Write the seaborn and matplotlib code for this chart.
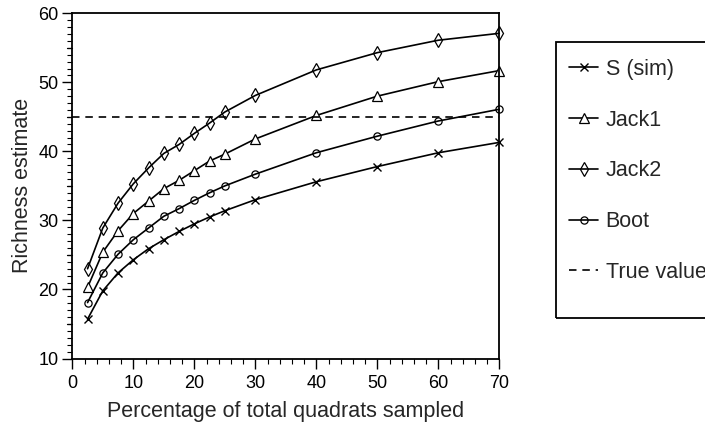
import matplotlib
matplotlib.use("Agg")
import matplotlib.pyplot as plt
from matplotlib.ticker import MultipleLocator
from matplotlib.patches import Rectangle
import seaborn as sns
import pandas as pd

# ---- data ----
pct = [2.5, 5, 7.5, 10, 12.5, 15, 17.5, 20, 22.5, 25, 30, 40, 50, 60, 70]
s_sim = [15.7, 19.8, 22.4, 24.3, 25.9, 27.2, 28.4, 29.5, 30.5, 31.4, 33.0, 35.6, 37.8, 39.8, 41.3]
jack1 = [20.3, 25.4, 28.5, 31.0, 32.8, 34.6, 35.8, 37.2, 38.6, 39.6, 41.8, 45.2, 48.0, 50.1, 51.7]
jack2 = [23.0, 28.9, 32.5, 35.3, 37.6, 39.7, 41.0, 42.6, 44.1, 45.7, 48.1, 51.8, 54.3, 56.1, 57.1]
boot = [18.1, 22.4, 25.1, 27.2, 28.9, 30.6, 31.7, 32.9, 34.0, 35.0, 36.7, 39.8, 42.2, 44.4, 46.1]
true_value = 45
series_names = ["S (sim)", "Jack1", "Jack2", "Boot"]
x_label = "Percentage of total quadrats sampled"
y_label = "Richness estimate"

sns.set_style("ticks")
plt.rcParams["font.family"] = ["Liberation Sans", "DejaVu Sans"]

W, H = 705, 426
fig = plt.figure(figsize=(W / 100, H / 100), dpi=100)
ax = fig.add_axes([72.3 / W, 1 - 358.5 / H, (499.3 - 72.3) / W, (358.5 - 13.3) / H])

styles = {
    "S (sim)": dict(marker="x", markersize=6, markeredgewidth=1.0, markerfacecolor="none"),
    "Jack1": dict(marker="^", markersize=7.5, markeredgewidth=0.9, markerfacecolor="white"),
    "Jack2": dict(marker="d", markersize=7.5, markeredgewidth=0.9, markerfacecolor="none"),
    "Boot": dict(marker="o", markersize=5.2, markeredgewidth=0.9, markerfacecolor="none"),
}
values = {"S (sim)": s_sim, "Jack1": jack1, "Jack2": jack2, "Boot": boot}

for name in series_names:
    df = pd.DataFrame({"x": pct, "y": values[name]})
    sns.lineplot(data=df, x="x", y="y", ax=ax, color="black", linewidth=1.2,
                 markeredgecolor="black", label=name, clip_on=False, **styles[name])

ax.axhline(true_value, color="black", linestyle=(0, (4.5, 3.5)), linewidth=1.2, label="True value")

ax.set_xlim(0, 70)
ax.set_ylim(10, 60)
ax.xaxis.set_major_locator(MultipleLocator(10))
ax.xaxis.set_minor_locator(MultipleLocator(2))
ax.yaxis.set_major_locator(MultipleLocator(10))
ax.yaxis.set_minor_locator(MultipleLocator(1))
ax.tick_params(axis="both", which="major", direction="out", length=7, width=1.0,
               labelsize=13, color="black", labelcolor="black")
ax.tick_params(axis="x", which="major", pad=5)
ax.tick_params(axis="y", which="major", pad=3)
ax.tick_params(axis="both", which="minor", direction="out", length=3.5, width=0.8, color="black")
# medium ticks at the fives on y
for yv in [15, 25, 35, 45, 55]:
    ax.plot([0, -0.012], [yv, yv], transform=ax.get_yaxis_transform(), color="black",
            linewidth=0.9, clip_on=False)

for sp in ax.spines.values():
    sp.set_visible(True)
    sp.set_linewidth(1.3)
    sp.set_color("black")

ax.set_xlabel(x_label, fontsize=15.5, labelpad=6)
ax.set_ylabel(y_label, fontsize=15.5, labelpad=4)

handles, labels = ax.get_legend_handles_labels()
leg = ax.legend(handles, labels, loc="upper left",
                bbox_to_anchor=(569 / W, 1 - 59 / H), bbox_transform=fig.transFigure,
                frameon=False, fontsize=15.5, handlelength=1.35, handletextpad=0.35,
                labelspacing=1.38, borderaxespad=0, borderpad=0)

fig.patches.append(Rectangle((556 / W, 1 - 318.3 / H), (720 - 556) / W, (318.3 - 41.7) / H,
                             transform=fig.transFigure, fill=False, edgecolor="black",
                             linewidth=1.3))

fig.savefig("out.png", dpi=100)
